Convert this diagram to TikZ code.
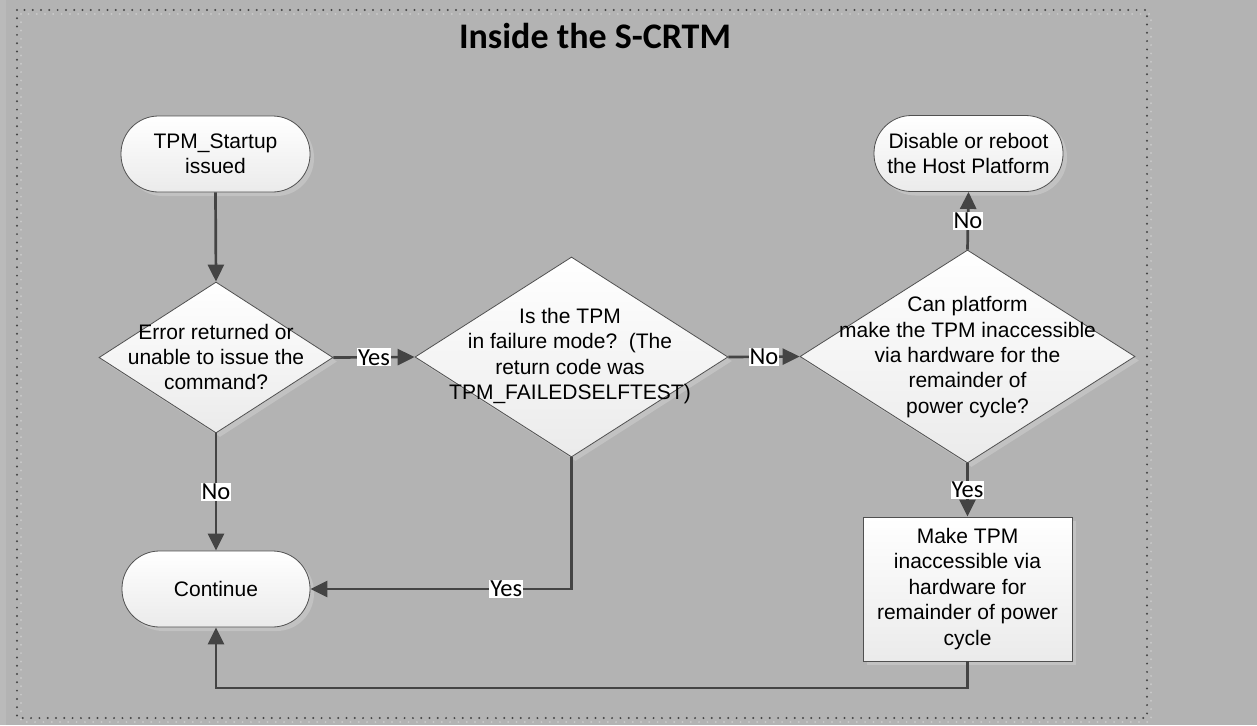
\documentclass[tikz,border=0pt]{standalone}
\usepackage{fontspec}
\setmainfont{Liberation Sans}
\newfontfamily\carlito{Carlito}
\usetikzlibrary{shapes.geometric,shadows,arrows.meta}
\definecolor{bg}{HTML}{B3B3B3}
\definecolor{ln}{HTML}{444444}
\definecolor{bd}{HTML}{505050}
\definecolor{shd}{HTML}{C2C2C2}
\definecolor{dotc}{HTML}{454545}
\definecolor{dotl}{HTML}{C8C8C8}
\tikzset{
  flowshadow/.style={drop shadow={shadow xshift=4pt,shadow yshift=-4pt,fill=shd,opacity=1}},
  basebox/.style={draw=bd,line width=0.8pt,top color=white,bottom color=black!8,flowshadow,inner sep=0pt,align=center},
  term/.style={basebox,rounded corners=37.5pt,minimum width=189pt,minimum height=76pt,font=\fontsize{21}{25}\selectfont},
  decision/.style={basebox,diamond},
  procbox/.style={basebox,rectangle,minimum width=209pt,minimum height=144pt,font=\fontsize{21}{25.5}\selectfont},
  dtext/.style={align=center,inner sep=0pt,font=\fontsize{21}{25.3}\selectfont},
  lab/.style={fill=white,inner xsep=1pt,inner ysep=1.2pt,font=\carlito\fontsize{24.5}{26}\selectfont,text=black},
  conn/.style={draw=ln,line width=2.7pt,-{Triangle[length=17pt,width=16pt]}},
  frameline/.style={line width=2.2pt,line cap=round,dash pattern=on 0pt off 8.3pt}
}
\begin{document}
\begin{tikzpicture}[x=1pt,y=-1pt]
\useasboundingbox (0,0) rectangle (1257,725);
\fill[bg] (0,0) rectangle (1257,725);
\fill[black!27] (0,0) rectangle (6,725);
% dotted frame
\draw[dotl,frameline] (21,14) rectangle (1151,722);
\draw[dotc,frameline] (17,10) rectangle (1147,718);
% title
\node[font=\carlito\bfseries\fontsize{36}{40}\selectfont,anchor=base,inner sep=0pt] (title) at (595,48.5) {Inside the S-CRTM};
% nodes
\node[term] (start) at (215.5,154) {TPM\_Startup\\issued};
\node[decision,minimum width=234pt,minimum height=151pt] (d1) at (216,357.5) {};
\node[dtext] (d1t) at (216,357) {Error returned or\\unable to issue the\\command?};
\node[decision,minimum width=313pt,minimum height=200pt] (d2) at (571.5,357) {};
\node[dtext] (d2t) at (570,356) {Is the TPM\\in failure mode?\ \ (The\\return code was\\TPM\_FAILEDSELFTEST)};
\node[decision,minimum width=335pt,minimum height=213pt] (d3) at (967.5,356.5) {};
\node[dtext] (d3t) at (967.5,357) {Can platform\\make the TPM inaccessible\\via hardware for the\\remainder of\\power cycle?};
\node[term] (dis) at (968.5,153.5) {Disable or reboot\\the Host Platform};
\node[procbox] (box) at (967.5,589) {Make TPM\\inaccessible via\\hardware for\\remainder of power\\cycle};
\node[term,minimum width=188pt] (cont) at (216,589) {Continue};
\coordinate (loop) at (967.5,688);
% connectors
\draw[conn] (start.south) -- (d1.north);
\draw[conn] (d1.east) -- node[lab] (l1) {Yes} (d2.west);
\draw[conn] (d2.east) -- node[lab] (l2) {No} (d3.west);
\draw[conn] (d3.north) -- node[lab] (l3) {No} (dis.south);
\draw[conn] (d3.south) -- node[lab] (l4) {Yes} (box.north);
\draw[conn] (d1.south) -- node[lab] (l5) {No} (cont.north);
\draw[conn] (d2.south) |- node[lab,pos=0.625] (l6) {Yes} (cont.east);
\draw[conn] (box.south) -- (loop) -| (cont.south);
\end{tikzpicture}
\end{document}
